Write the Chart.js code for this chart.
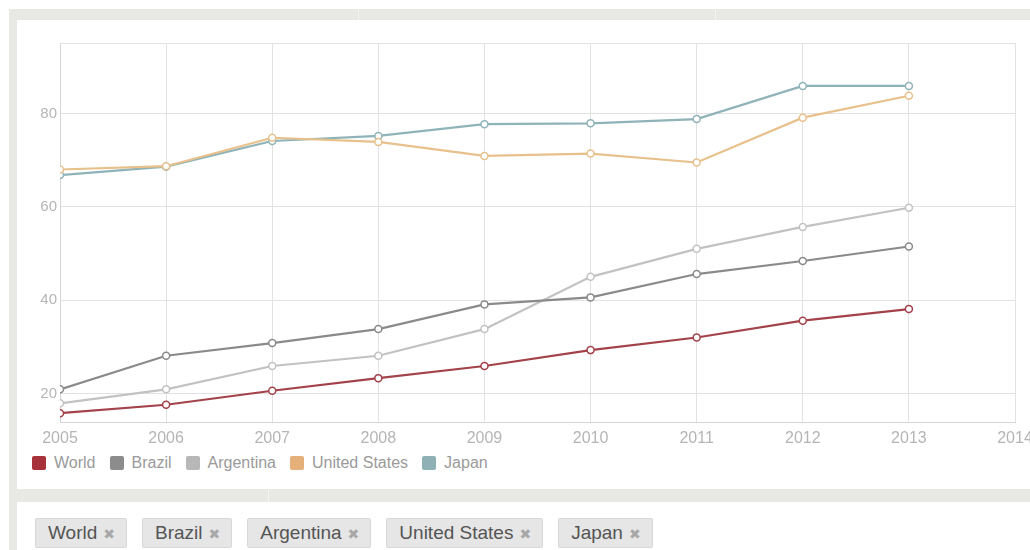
<!DOCTYPE html>
<html>
  <head>
    <title>Country comparison</title>
    <script src="https://cdn.jsdelivr.net/npm/chart.js@4.4.1/dist/chart.umd.min.js"></script>
    <style>
      body { margin: 0; width: 1030px; height: 550px; overflow: hidden; background: #fff; position: relative; font-family: "Liberation Sans", Arial, sans-serif; }
      .band { position: absolute; background: #e8e8e4; }
      .divider { position: absolute; width: 1px; background: #f4f4f1; }
      .panel { position: absolute; background: #fff; left: 17px; width: 1013px; }
      #chartBox { position: absolute; left: 18px; top: 20px; width: 1030px; height: 432px; }
      #legend { position: absolute; left: 32px; top: 454px; height: 18px; display: flex; align-items: center; font-size: 16px; color: #9a9a9a; }
      #legend span.box { display: inline-block; width: 14px; height: 14px; border-radius: 2px; margin-right: 8px; }
      #legend span.item { display: inline-flex; align-items: center; margin-right: 14px; }
      #tags { position: absolute; left: 35px; top: 518px; display: flex; }
      .tag { height: 28px; line-height: 28px; padding: 0 11px 0 12px; margin-right: 15px; background: #e6e6e6; border: 1px solid #d8d8d8; border-radius: 2px; font-size: 19px; color: #555; }
      .tag .x { font-family: "DejaVu Sans", sans-serif; font-size: 14px; color: #a8a8a8; margin-left: 6px; }
    </style>
  </head>
  <body>

    <!-- page frame -->
    <div class="band" style="left:9px; top:9px; width:1021px; height:541px;"></div>
    <div class="divider" style="left:358px; top:9px; height:11px;"></div>
    <div class="divider" style="left:715px; top:9px; height:11px;"></div>
    <div class="divider" style="left:268px; top:489px; height:13px;"></div>
    <div class="panel" style="top:20px; height:469px;"></div>
    <div class="panel" style="top:502px; height:48px;"></div>

    <!-- The chart -->
    <div id="chartBox"><canvas id="lineChart"></canvas></div>

    <!-- The legend -->
    <div id="legend"></div>

    <!-- The selected countries -->
    <div id="tags"></div>

    <script>

      // Values
      const years = [2005, 2006, 2007, 2008, 2009, 2010, 2011, 2012, 2013];
      const countries = ["World", "Brazil", "Argentina", "United States", "Japan"];
      const world = [15.8, 17.6, 20.6, 23.3, 25.9, 29.3, 32.0, 35.6, 38.1];
      const brazil = [20.9, 28.1, 30.8, 33.8, 39.1, 40.6, 45.6, 48.4, 51.5];
      const argentina = [17.9, 20.9, 25.9, 28.1, 33.8, 45.0, 51.0, 55.7, 59.8];
      const unitedStates = [68.0, 68.7, 74.8, 73.9, 70.9, 71.4, 69.5, 79.1, 83.8];
      const japan = [66.8, 68.6, 74.1, 75.2, 77.7, 77.9, 78.8, 85.9, 85.9];
      const yTicks = [20, 40, 60, 80];
      const yMin = 13.9;
      const yMax = 95.1;

      const lineColors = ["#a3424a", "#8a8a8a", "#c2c2c2", "#e8c08c", "#8fb3b8"];
      const boxColors = ["#a8323a", "#8c8c8c", "#b8b8b8", "#e5b07a", "#8fb0b5"];
      const series = [world, brazil, argentina, unitedStates, japan];

      // Build the datasets
      const datasets = countries.map((name, i) => ({
        label: name,
        data: years.map((yr, j) => ({ x: yr, y: series[i][j] })),
        borderColor: lineColors[i],
        borderWidth: 2.2,
        pointRadius: 3.5,
        pointBorderWidth: 1.5,
        pointBackgroundColor: "#fff",
        pointBorderColor: lineColors[i],
        tension: 0
      }));

      const ctx = document.getElementById("lineChart").getContext("2d");

      const chart = new Chart(ctx, {
        type: "line",
        data: { datasets: datasets },
        options: {
          responsive: true,
          maintainAspectRatio: false,
          animation: false,
          layout: { padding: { top: 23, right: 33, left: 0, bottom: 0 } },
          plugins: { legend: { display: false }, tooltip: { enabled: false } },
          scales: {
            x: {
              type: "linear",
              min: 2005,
              max: 2014,
              ticks: {
                stepSize: 1,
                padding: 7,
                color: "#b5b5b5",
                font: { family: "'Liberation Sans', Arial, sans-serif", size: 16 },
                callback: (v) => String(v)
              },
              grid: { color: "#e2e2e2", drawTicks: false },
              border: { color: "#d6d6d6" },
              afterFit: (scale) => { scale.height = 30; }
            },
            y: {
              min: yMin,
              max: yMax,
              afterBuildTicks: (scale) => {
                scale.ticks = [yMin].concat(yTicks, [yMax]).map((v) => ({ value: v }));
              },
              ticks: {
                padding: 3,
                color: "#b5b5b5",
                font: { family: "'Liberation Sans', Arial, sans-serif", size: 15 },
                callback: (v) => (yTicks.includes(v) ? String(v) : "")
              },
              grid: { color: "#e2e2e2", drawTicks: false },
              border: { color: "#d6d6d6" },
              afterFit: (scale) => { scale.width = 42; }
            }
          }
        }
      });

      // Legend and tags
      const legend = document.getElementById("legend");
      const tags = document.getElementById("tags");
      countries.forEach((name, i) => {
        const item = document.createElement("span");
        item.className = "item";
        item.innerHTML = '<span class="box" style="background:' + boxColors[i] + '"></span>' + name;
        legend.appendChild(item);

        const tag = document.createElement("span");
        tag.className = "tag";
        tag.innerHTML = name + '<span class="x">\u2716</span>';
        tags.appendChild(tag);
      });

    </script>
  </body>
</html>
